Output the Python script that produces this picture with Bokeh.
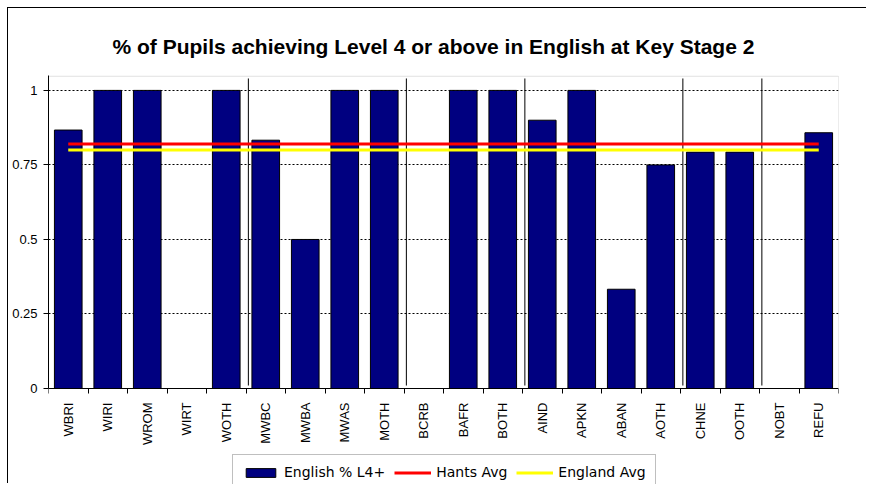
from bokeh.plotting import figure
from bokeh.models import (ColumnDataSource, Range1d, FixedTicker, Legend,
                          LegendItem, BoxAnnotation)
from bokeh.embed import file_html
from bokeh.resources import INLINE

categories = ["WBRI", "WIRI", "WROM", "WIRT", "WOTH",
              "MWBC", "MWBA", "MWAS", "MOTH",
              "BCRB", "BAFR", "BOTH",
              "AIND", "APKN", "ABAN", "AOTH",
              "CHNE", "OOTH",
              "NOBT", "REFU"]
english_l4 = [0.867, 1.0, 1.0, 0.0, 1.0,
              0.833, 0.5, 1.0, 1.0,
              0.0, 1.0, 1.0,
              0.9, 1.0, 0.333, 0.75,
              0.793, 0.793,
              0.0, 0.858]
hants_avg = [0.82] * len(categories)
england_avg = [0.80] * len(categories)
# group sizes (ethnic groupings separated by vertical lines)
group_sizes = [5, 4, 3, 4, 2, 2]
yticks = [0, 0.25, 0.5, 0.75, 1]
ytick_labels = ["0", "0.25", "0.5", "0.75", "1"]

YMAX = 1.05
YMIN = -0.322   # room below the zero line for category labels and legend

n = len(categories)
xs = [i + 0.5 for i in range(n)]
src = ColumnDataSource(dict(x=xs, cat=categories, eng=english_l4,
                            hants=hants_avg, eng_avg=england_avg))

p = figure(width=859, height=476, output_backend="svg", toolbar_location=None,
           x_range=Range1d(0, n), y_range=Range1d(YMIN, YMAX),
           min_border_left=40, min_border_right=29, min_border_top=67,
           min_border_bottom=0)
p.styles = {"border-top": "1px solid black", "border-left": "1px solid black",
            "margin-left": "7px", "margin-top": "7px", "padding-right": "8px"}

p.title.text = "% of Pupils achieving Level 4 or above in English at Key Stage 2"
p.title.align = "left"
p.title.offset = 64
p.title.text_font = "Liberation Sans"
p.title.text_font_size = "21px"
p.title.text_font_style = "bold"
p.title.text_color = "black"
p.title.standoff = 35

p.outline_line_color = None
p.background_fill_color = "white"

# grey plot-area border
p.add_layout(BoxAnnotation(left=0, right=n, bottom=0, top=YMAX - 0.002,
                           fill_alpha=0, line_color="#808080", line_width=1,
                           level="underlay"))

# group separators
bounds_x = []
b = 0
for g in group_sizes[:-1]:
    b += g
    bounds_x.append(b + 0.06)
p.segment(x0=bounds_x, x1=bounds_x, y0=[0.01] * len(bounds_x),
          y1=[1.04] * len(bounds_x), line_color="black", line_width=1)

bars = p.vbar(x="x", top="eng", width=0.7, source=src, fill_color="#000080",
              line_color="black", line_width=1)
hl = p.line(x="x", y="hants", source=src, line_color="red", line_width=3)
el = p.line(x="x", y="eng_avg", source=src, line_color="yellow", line_width=3)

# grid
p.xgrid.visible = False
p.ygrid.ticker = FixedTicker(ticks=yticks[1:])
p.ygrid.grid_line_color = "black"
p.ygrid.grid_line_dash = "2 2"
p.ygrid.grid_line_width = 1

# y axis
p.yaxis.ticker = FixedTicker(ticks=yticks)
p.yaxis.bounds = (0, YMAX)
p.yaxis.major_label_overrides = {t: l for t, l in zip(yticks, ytick_labels)}
p.yaxis.minor_tick_line_color = None
p.yaxis.major_tick_in = 0
p.yaxis.major_tick_out = 5
p.yaxis.axis_line_color = "black"
p.yaxis.major_label_text_font = "Liberation Sans"
p.yaxis.major_label_text_font_size = "13px"
p.yaxis.major_label_text_color = "black"
p.yaxis.major_label_standoff = 6

# x axis drawn on the zero line
p.xaxis.fixed_location = 0
p.xaxis.ticker = FixedTicker(ticks=xs, minor_ticks=list(range(n + 1)))
p.xaxis.major_label_overrides = {x: c for x, c in zip(xs, categories)}
p.xaxis.major_tick_in = 0
p.xaxis.major_tick_out = 0
p.xaxis.minor_tick_in = 0
p.xaxis.minor_tick_out = 5
p.xaxis.minor_tick_line_color = "black"
p.xaxis.axis_line_color = "black"
p.xaxis.major_label_orientation = 3.14159265 / 2
p.xaxis.major_label_text_font = "Liberation Sans"
p.xaxis.major_label_text_font_size = "13px"
p.xaxis.major_label_text_color = "black"
p.xaxis.major_label_standoff = 9

legend = Legend(items=[LegendItem(label="English % L4+", renderers=[bars]),
                       LegendItem(label="Hants Avg", renderers=[hl]),
                       LegendItem(label="England Avg", renderers=[el])],
                orientation="horizontal", location=(184, -6))
legend.label_text_font = "DejaVu Sans"
legend.label_text_font_size = "14px"
legend.label_text_color = "black"
legend.glyph_width = 37
legend.glyph_height = 11
legend.label_standoff = 5
legend.spacing = 9
legend.padding = 9
legend.margin = 0
legend.border_line_color = "#808080"
legend.border_line_width = 1
p.add_layout(legend, "center")

open("out.html", "w").write(file_html(p, INLINE))
